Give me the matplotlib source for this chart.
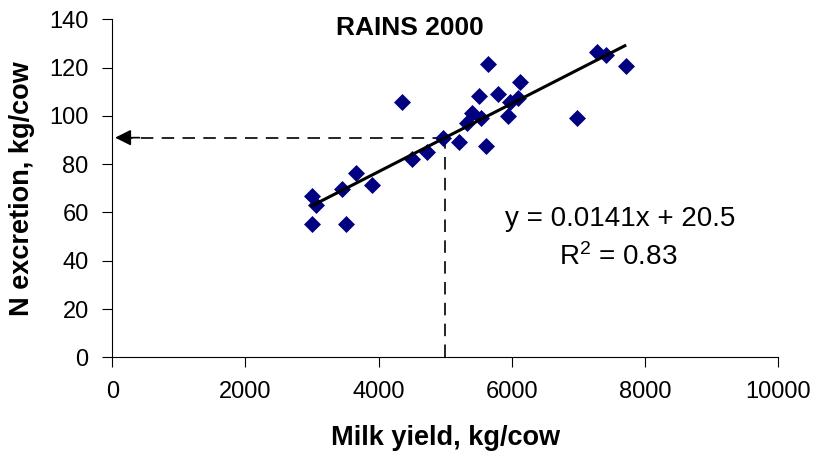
import matplotlib
matplotlib.use("Agg")
import matplotlib.pyplot as plt

plt.rcParams['font.family'] = ['Liberation Sans', 'DejaVu Sans']
plt.rcParams['mathtext.default'] = 'regular'

milk_yield = [3000, 3060, 3000, 3510, 3450, 3660, 3900, 4350, 4500, 4730, 4970,
              5210, 5330, 5400, 5540, 5510, 5610, 5650, 5790, 6120, 5975, 6095,
              5945, 6980, 7280, 7420, 7720]
n_excretion = [66.8, 63.1, 55.2, 55.2, 69.7, 76.3, 71.3, 105.8, 82.2, 85.1, 90.8,
               89.2, 97.1, 101.2, 99.1, 108.2, 87.5, 121.5, 109.1, 114.0, 105.8, 107.4,
               100.0, 99.1, 126.5, 125.3, 120.7]
slope = 0.0141
intercept = 20.5
fit_range = [3000, 7700]
ref_x = 5000
ref_y = 91

fig = plt.figure(figsize=(8.18, 4.61), dpi=100)
ax = fig.add_axes([0.1373, 0.2249, 0.951 - 0.1373, 0.958 - 0.2249])

ax.scatter(milk_yield, n_excretion, marker='D', s=75, color='#000080', zorder=3, linewidths=0)
ax.plot(fit_range, [slope * x + intercept for x in fit_range], color='black', lw=2.2, zorder=4)

# reference dashed lines
ax.plot([ref_x, ref_x], [0, ref_y], color='black', lw=1.2, ls=(0, (7.5, 5)), zorder=2)
ax.plot([ref_x, 250], [ref_y, ref_y], color='black', lw=1.2, ls=(0, (7.5, 5)), zorder=2)
ax.annotate('', xy=(0, ref_y), xytext=(450, ref_y),
            arrowprops=dict(arrowstyle='-|>', color='black', lw=1.2, mutation_scale=24),
            annotation_clip=False)

ax.set_xlim(0, 10000)
ax.set_ylim(0, 140)
ax.set_xticks(range(0, 10001, 2000))
ax.set_yticks(range(0, 141, 20))
ax.spines['top'].set_visible(False)
ax.spines['right'].set_visible(False)
ax.tick_params(direction='out', length=7, labelsize=17, pad=10)
ax.set_xlabel('Milk yield, kg/cow', fontsize=19.5, fontweight='bold', labelpad=16)
ax.set_ylabel('N excretion, kg/cow', fontsize=19.5, fontweight='bold', labelpad=10)

ax.text(4472, 136.4, 'RAINS 2000', fontsize=19, fontweight='bold', ha='center', va='center')
ax.text(7625, 57.5, 'y = 0.0141x + 20.5', fontsize=20, ha='center', va='center')
ax.text(7600, 41.5, 'R$^{2}$ = 0.83', fontsize=20, ha='center', va='center')

fig.savefig('out.png', dpi=100)
